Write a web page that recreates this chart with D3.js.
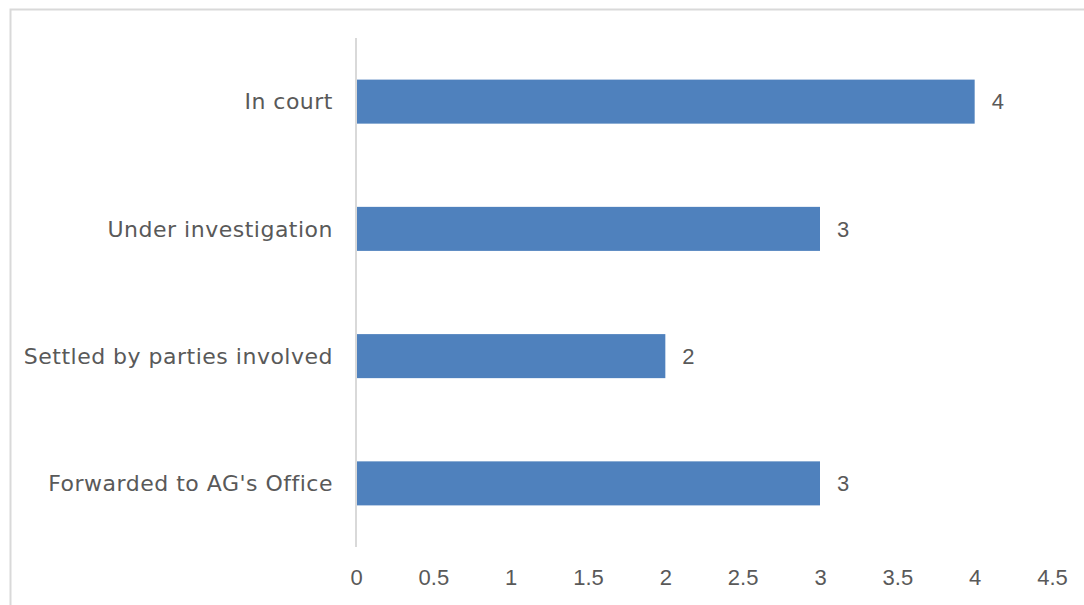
<!DOCTYPE html>
<html>
<head>
<meta charset="utf-8">
<script src="https://cdn.jsdelivr.net/npm/d3@7"></script>
<style>
  body { margin: 0; background: #fff; }
  .chart text { fill: #595959; }
</style>
</head>
<body>
<div class="chart"></div>
<script>
// DATA ------------------------------------
const categories = ["In court", "Under investigation", "Settled by parties involved", "Forwarded to AG's Office"];
const counts = [4, 3, 2, 3];
const tickValues = [0, 0.5, 1, 1.5, 2, 2.5, 3, 3.5, 4, 4.5];

// CHART INIT ------------------------------
const W = 1084, H = 605;
const svg = d3.select(".chart")
    .append("svg")
    .attr("width", W)
    .attr("height", H);

// outer frame
svg.append("rect")
    .attr("x", 10.5).attr("y", 9.5)
    .attr("width", W + 20).attr("height", H + 20)
    .attr("fill", "none")
    .attr("stroke", "#d9d9d9")
    .attr("stroke-width", 2);

let xScale = d3.scaleLinear()
    .domain([0, 4.5])
    .range([356, 1052]);
let yScale = d3.scaleBand()
    .domain(categories)
    .range([38, 547])
    .paddingInner(0.654)
    .paddingOuter(0.327);

// bars
svg.selectAll("rect.bar")
    .data(categories)
    .enter()
    .append("rect")
    .attr("class", "bar")
    .attr("x", xScale(0))
    .attr("y", d => yScale(d))
    .attr("width", (d, i) => xScale(counts[i]) - xScale(0))
    .attr("height", yScale.bandwidth())
    .attr("fill", "#4f81bd");

// vertical axis line
svg.append("line")
    .attr("x1", xScale(0)).attr("x2", xScale(0))
    .attr("y1", 38).attr("y2", 547)
    .attr("stroke", "#d9d9d9")
    .attr("stroke-width", 2);

// category labels
svg.selectAll("text.cat")
    .data(categories)
    .enter()
    .append("text")
    .attr("class", "cat")
    .attr("x", 333)
    .attr("y", d => yScale(d) + yScale.bandwidth() / 2)
    .attr("dy", "0.35em")
    .attr("text-anchor", "end")
    .attr("font-family", "'DejaVu Sans', sans-serif")
    .attr("font-size", "22px")
    .attr("letter-spacing", "0.5px")
    .text(d => d);

// value labels
svg.selectAll("text.val")
    .data(categories)
    .enter()
    .append("text")
    .attr("class", "val")
    .attr("x", (d, i) => xScale(counts[i]) + 17)
    .attr("y", d => yScale(d) + yScale.bandwidth() / 2)
    .attr("dy", "0.35em")
    .attr("font-family", "'Liberation Sans', sans-serif")
    .attr("font-size", "22px")
    .text((d, i) => counts[i]);

// x axis (labels only)
let xAxis = d3.axisBottom(xScale)
    .tickValues(tickValues)
    .tickSize(0)
    .tickPadding(0)
    .tickFormat(d3.format("~g"));
svg.append("g")
    .attr("class", "axis x-axis")
    .attr("transform", "translate(0, 569)")
    .call(xAxis)
    .call(g => g.select(".domain").remove())
    .selectAll("text")
    .attr("font-family", "'Liberation Sans', sans-serif")
    .attr("font-size", "22px")
    .attr("fill", "#595959");
</script>
</body>
</html>
